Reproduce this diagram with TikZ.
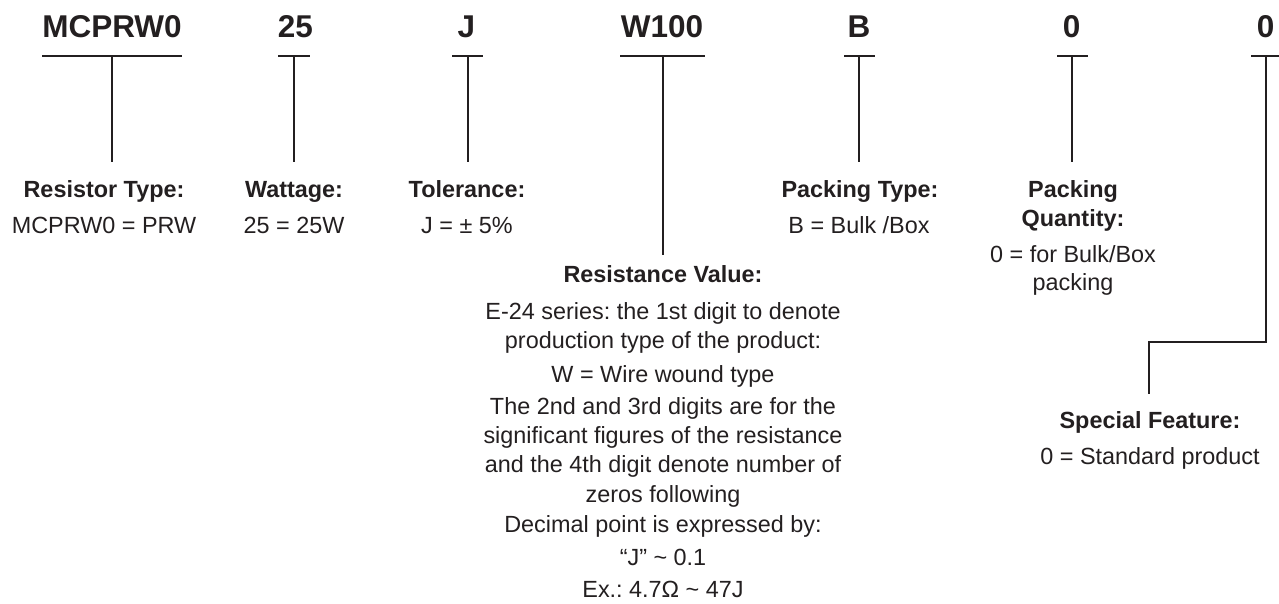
\documentclass[tikz,border=0pt]{standalone}
\usepackage{fontspec}
\setmainfont{Liberation Sans}
\frenchspacing
\definecolor{ink}{HTML}{231F20}
\begin{document}
\frenchspacing
\begin{tikzpicture}[x=1pt,y=-1pt,
  code/.style={anchor=base,inner sep=0pt,font=\fontsize{31.5}{36}\selectfont\bfseries,text=ink},
  ttl/.style={anchor=base,inner sep=0pt,font=\fontsize{23.4}{28}\selectfont\bfseries\frenchspacing,text=ink},
  dsc/.style={anchor=base,inner sep=0pt,font=\fontsize{23.4}{28}\selectfont\frenchspacing,text=ink},
  ln/.style={draw=ink,line width=2pt}]
\useasboundingbox (0,0) rectangle (1279,603);
% code letters
\node[code] (c1) at (112,37) {MCPRW0};
\node[code] (c2) at (295.5,37) {25};
\node[code] (c3) at (466.5,37) {J};
\node[code] (c4) at (662,37) {W100};
\node[code] (c5) at (859,37) {B};
\node[code] (c6) at (1071.5,37) {0};
\node[code] (c7) at (1265.5,37) {0};
% titles and descriptions
\node[ttl] (t1) at (104,197) {Resistor Type:};
\node[dsc] (d1) at (104,233) {MCPRW0 = PRW};
\node[ttl] (t2) at (294,197) {Wattage:};
\node[dsc] (d2) at (294,233) {25 = 25W};
\node[ttl] (t3) at (467,197) {Tolerance:};
\node[dsc] (d3) at (467,233) {J = ± 5\%};
\node[ttl] (t5) at (860,197) {Packing Type:};
\node[dsc] (d5) at (859,233) {B = Bulk /Box};
\node[ttl] (t6a) at (1073,197) {Packing};
\node[ttl] (t6b) at (1073,226) {Quantity:};
\node[dsc] (d6a) at (1073,262) {0 = for Bulk/Box};
\node[dsc] (d6b) at (1073,290) {packing};
\node[ttl] (t4) at (663,282) {Resistance Value:};
\node[dsc] (r1) at (663,319) {E-24 series: the 1st digit to denote};
\node[dsc] (r2) at (663,348) {production type of the product:};
\node[dsc] (r3) at (663,382) {W = Wire wound type};
\node[dsc] (r4) at (663,414) {The 2nd and 3rd digits are for the};
\node[dsc] (r5) at (663,443) {significant figures of the resistance};
\node[dsc] (r6) at (663,472) {and the 4th digit denote number of};
\node[dsc] (r7) at (663,502) {zeros following};
\node[dsc] (r8) at (663,532) {Decimal point is expressed by:};
\node[dsc] (r9) at (663,565) {“J” \textasciitilde{} 0.1};
\node[dsc] (r10) at (663,597) {Ex.: 4.7Ω \textasciitilde{} 47J};
\node[ttl] (t7) at (1150,428) {Special Feature:};
\node[dsc] (d7) at (1150,464) {0 = Standard product};
% underlines
\coordinate (u1a) at (42,56);   \coordinate (u1b) at (182,56);
\coordinate (u2a) at (278,56);  \coordinate (u2b) at (310,56);
\coordinate (u3a) at (452,56);  \coordinate (u3b) at (483,56);
\coordinate (u4a) at (620,56);  \coordinate (u4b) at (705,56);
\coordinate (u5a) at (844,56);  \coordinate (u5b) at (875,56);
\coordinate (u6a) at (1057,56); \coordinate (u6b) at (1088,56);
\coordinate (u7a) at (1251,56); \coordinate (u7b) at (1282,56);
\foreach \i in {1,...,7} {\draw[ln] (u\i a) -- (u\i b);}
% stems
\coordinate (s1) at (112,56);  \coordinate (e1) at (112,162);
\coordinate (s2) at (294,56);  \coordinate (e2) at (294,162);
\coordinate (s3) at (468,56);  \coordinate (e3) at (468,162);
\coordinate (s4) at (663,56);  \coordinate (e4) at (663,255);
\coordinate (s5) at (859,56);  \coordinate (e5) at (859,162);
\coordinate (s6) at (1072,56); \coordinate (e6) at (1072,162);
\foreach \i in {1,...,6} {\draw[ln] (s\i) -- (e\i);}
\coordinate (s7) at (1266,56); \coordinate (k7) at (1266,342);
\coordinate (e7) at (1149,394);
\draw[ln] (s7) -- (k7) -| (e7);
\end{tikzpicture}
\end{document}
